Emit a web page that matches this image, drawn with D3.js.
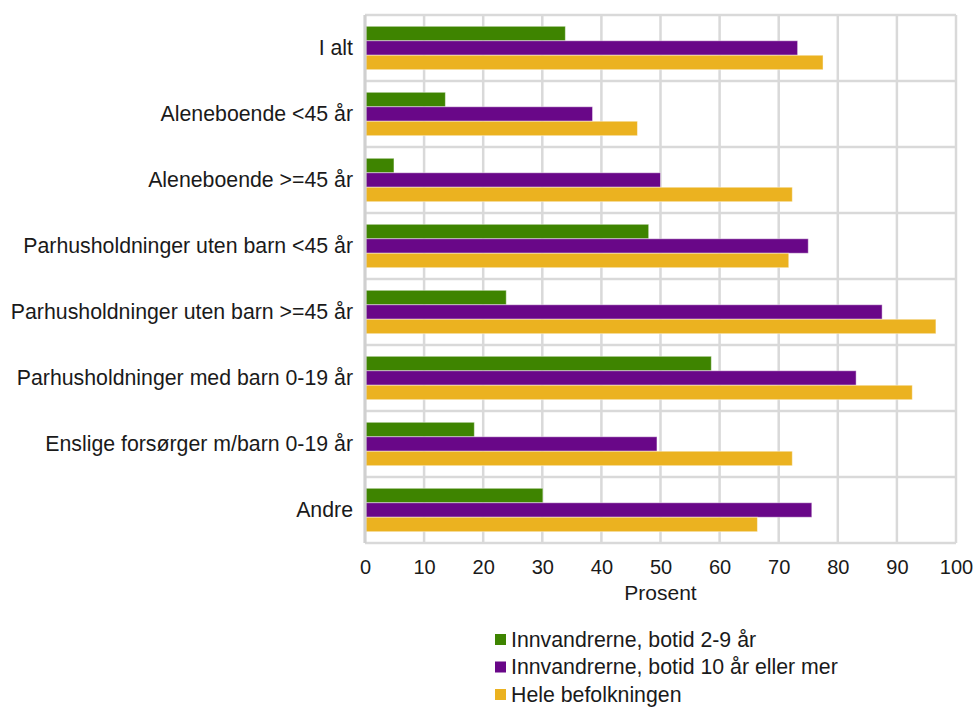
<!DOCTYPE html>
<html>
<head>
<meta charset="utf-8">
<script src="https://cdn.jsdelivr.net/npm/d3@7"></script>
<style>
  body { margin: 0; background: #fff; }
  text { font-family: "Liberation Sans", Arial, sans-serif; fill: #1a1a1a; }
</style>
</head>
<body>
<div id="chart"></div>
<script>
const categories = [
    "I alt",
    "Aleneboende <45 år",
    "Aleneboende >=45 år",
    "Parhusholdninger uten barn <45 år",
    "Parhusholdninger uten barn >=45 år",
    "Parhusholdninger med barn 0-19 år",
    "Enslige forsørger m/barn 0-19 år",
    "Andre"
];
const seriesNames = [
    "Innvandrerne, botid 2-9 år",
    "Innvandrerne, botid 10 år eller mer",
    "Hele befolkningen"
];
const botid2to9 = [33.9, 13.6, 4.9, 48.0, 23.9, 58.6, 18.5, 30.1];
const botid10pluss = [73.2, 38.5, 50.0, 75.0, 87.5, 83.1, 49.4, 75.6];
const heleBefolkningen = [77.5, 46.1, 72.3, 71.7, 96.6, 92.6, 72.3, 66.4];
const xTicks = [0, 10, 20, 30, 40, 50, 60, 70, 80, 90, 100];

const colors = ["#3e8400", "#690788", "#ebb220"];
const seriesValues = [botid2to9, botid10pluss, heleBefolkningen];

const width = 974;
const height = 709;
const margin = {top: 15, right: 18, bottom: 166, left: 365};

const svg = d3.select("#chart")
    .append("svg")
    .attr("width", width)
    .attr("height", height);

const x = d3.scaleLinear()
    .domain([0, 100])
    .range([margin.left, width - margin.right]);

const y0 = d3.scaleBand()
    .domain(categories)
    .range([margin.top, height - margin.bottom]);

const y1 = d3.scaleBand()
    .domain(seriesNames)
    .range([0, y0.bandwidth()])
    .paddingOuter(0.78);

// grid
const grid = svg.append("g").attr("class", "grid");

grid.selectAll("line.v")
    .data(xTicks)
    .enter()
    .append("line")
    .attr("class", "v")
    .attr("x1", d => x(d))
    .attr("x2", d => x(d))
    .attr("y1", margin.top)
    .attr("y2", height - margin.bottom)
    .attr("stroke", "#d9d9d9")
    .attr("stroke-width", 2.5);

const hLines = categories.map(c => y0(c)).concat([height - margin.bottom]);
grid.selectAll("line.h")
    .data(hLines)
    .enter()
    .append("line")
    .attr("class", "h")
    .attr("x1", x(0))
    .attr("x2", x(100))
    .attr("y1", d => d)
    .attr("y2", d => d)
    .attr("stroke", "#d9d9d9")
    .attr("stroke-width", 2.5);

// bars
const rows = categories.map((c, i) => ({
    name: c,
    values: seriesNames.map((s, j) => ({series: s, value: seriesValues[j][i], color: colors[j]}))
}));

const groups = svg.selectAll("g.cat")
    .data(rows)
    .enter()
    .append("g")
    .attr("class", "cat")
    .attr("transform", d => "translate(0," + y0(d.name) + ")");

groups.selectAll("rect")
    .data(d => d.values)
    .enter()
    .append("rect")
    .attr("x", x(0) + 1)
    .attr("y", d => y1(d.series))
    .attr("width", d => x(d.value) - x(0) - 1)
    .attr("height", y1.bandwidth())
    .attr("fill", d => d.color)
    .attr("stroke", "rgba(255,255,255,0.45)")
    .attr("stroke-width", 1);

// left axis line
svg.append("line")
    .attr("x1", x(0))
    .attr("x2", x(0))
    .attr("y1", margin.top)
    .attr("y2", height - margin.bottom)
    .attr("stroke", "#d0d0d0")
    .attr("stroke-width", 3);

// category labels
svg.selectAll("text.cat")
    .data(categories)
    .enter()
    .append("text")
    .attr("class", "cat")
    .attr("x", 353)
    .attr("y", d => y0(d) + y0.bandwidth() / 2)
    .attr("dy", "0.35em")
    .attr("text-anchor", "end")
    .style("font-size", "21.3px")
    .text(d => d);

// x tick labels
const xAxis = svg.append("g")
    .attr("transform", "translate(0," + (height - margin.bottom) + ")")
    .call(d3.axisBottom(x).tickValues(xTicks).tickSize(0).tickPadding(17));
xAxis.select(".domain").remove();
xAxis.selectAll("text")
    .style("font-size", "20px")
    .style("font-family", "'Liberation Sans', Arial, sans-serif")
    .attr("fill", "#1a1a1a");

svg.append("text")
    .attr("x", (x(0) + x(100)) / 2)
    .attr("y", 600)
    .attr("text-anchor", "middle")
    .style("font-size", "21px")
    .text("Prosent");

// legend (nudged up a little so the last row's descenders stay inside)
const legend = svg.selectAll("g.legend")
    .data(seriesNames)
    .enter()
    .append("g")
    .attr("class", "legend")
    .attr("transform", (d, i) => "translate(495," + (634 + i * 27.5) + ")");

legend.append("rect")
    .attr("width", 11)
    .attr("height", 11)
    .attr("fill", (d, i) => colors[i]);

legend.append("text")
    .attr("x", 16)
    .attr("y", 5.5)
    .attr("dy", "0.35em")
    .style("font-size", "21.3px")
    .text(d => d);
</script>
</body>
</html>
